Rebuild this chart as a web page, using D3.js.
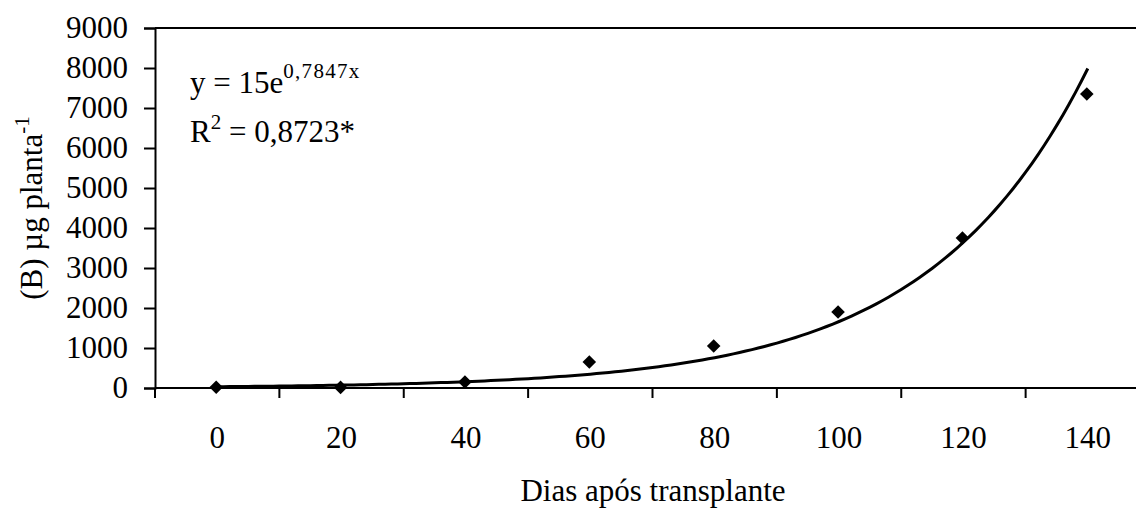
<!DOCTYPE html>
<html><head><meta charset="utf-8">
<script src="https://cdn.jsdelivr.net/npm/d3@7"></script>
<style>body{margin:0;background:#fff}svg{display:block}text{font-family:"Liberation Serif","Times New Roman",serif;fill:#000}</style>
</head><body>
<svg id="c" width="1136" height="511"></svg>
<script>
const days = [0, 20, 40, 60, 80, 100, 120, 140];
const values = [20, 15, 150, 650, 1050, 1900, 3750, 7350];
const yTicks = [0, 1000, 2000, 3000, 4000, 5000, 6000, 7000, 8000, 9000];
const trendA = 15, trendB = 0.7847;

(function () {
const svg = d3.select("#c");
const L = 155, R = 1150, T = 28, B = 388;
const FS = "31px", SFS = "21px";
const x = d3.scaleBand().domain(days).range([L, R]).paddingInner(0).paddingOuter(0);
const y = d3.scaleLinear().domain([0, 9000]).range([B, T]);
const xc = d => x(d) + x.bandwidth() / 2;

// top border
svg.append("line").attr("x1", L).attr("x2", 1136).attr("y1", T).attr("y2", T)
  .attr("stroke", "#000").attr("stroke-width", 2);

// x axis
const gx = svg.append("g").attr("transform", `translate(0,${B})`)
  .call(d3.axisBottom(x).tickSize(0).tickPadding(38));
gx.select(".domain").remove();
gx.selectAll("text").style("font-size", FS);
svg.append("line").attr("x1", L).attr("x2", 1136).attr("y1", B).attr("y2", B)
  .attr("stroke", "#000").attr("stroke-width", 2);
svg.append("g").selectAll("line").data(d3.range(days.length + 1)).join("line")
  .attr("x1", i => L + i * x.bandwidth()).attr("x2", i => L + i * x.bandwidth())
  .attr("y1", B).attr("y2", B + 10).attr("stroke", "#000").attr("stroke-width", 2);

// y axis
const gy = svg.append("g").attr("transform", `translate(${L},0)`)
  .call(d3.axisLeft(y).tickValues(yTicks).tickSize(11).tickPadding(16).tickFormat(d3.format("d")));
gy.select(".domain").attr("stroke-width", 2);
gy.selectAll(".tick line").attr("stroke-width", 2);
gy.selectAll("text").style("font-size", FS);

// trend line y = a e^(b x), x = category index 1..8
const idx = d3.scaleLinear().domain([1, days.length]).range([xc(days[0]), xc(days[days.length - 1])]);
const tPts = d3.range(1, days.length + 0.0001, 0.05).map(t => [idx(t), y(trendA * Math.exp(trendB * t))]);
svg.append("path").attr("d", d3.line()(tPts)).attr("fill", "none").attr("stroke", "#000").attr("stroke-width", 3);

// markers
svg.append("g").selectAll("path").data(days).join("path")
  .attr("d", d3.symbol(d3.symbolSquare, 92)())
  .attr("transform", (d, i) => `translate(${xc(d) - 1},${y(values[i])}) rotate(45)`)
  .attr("fill", "#000");

// equation
const eq = svg.append("text").attr("x", 190).attr("y", 93).style("font-size", FS);
eq.append("tspan").text("y = 15e");
eq.append("tspan").attr("dy", -15).style("font-size", SFS).style("letter-spacing", "1.3px").text("0,7847x");
const r2 = svg.append("text").attr("x", 190).attr("y", 142).style("font-size", FS);
r2.append("tspan").text("R");
r2.append("tspan").attr("dy", -13).style("font-size", SFS).text("2");
r2.append("tspan").attr("dy", 13).text(" = 0,8723*");

// axis titles
const yt = svg.append("text").attr("transform", "translate(42,208) rotate(-90)")
  .attr("text-anchor", "middle").style("font-size", FS);
yt.append("tspan").text("(B) µg planta");
yt.append("tspan").attr("dy", -13).style("font-size", SFS).text("-1");
svg.append("text").attr("x", 653).attr("y", 501).attr("text-anchor", "middle")
  .style("font-size", FS).text("Dias após transplante");
})();
</script>
</body></html>
